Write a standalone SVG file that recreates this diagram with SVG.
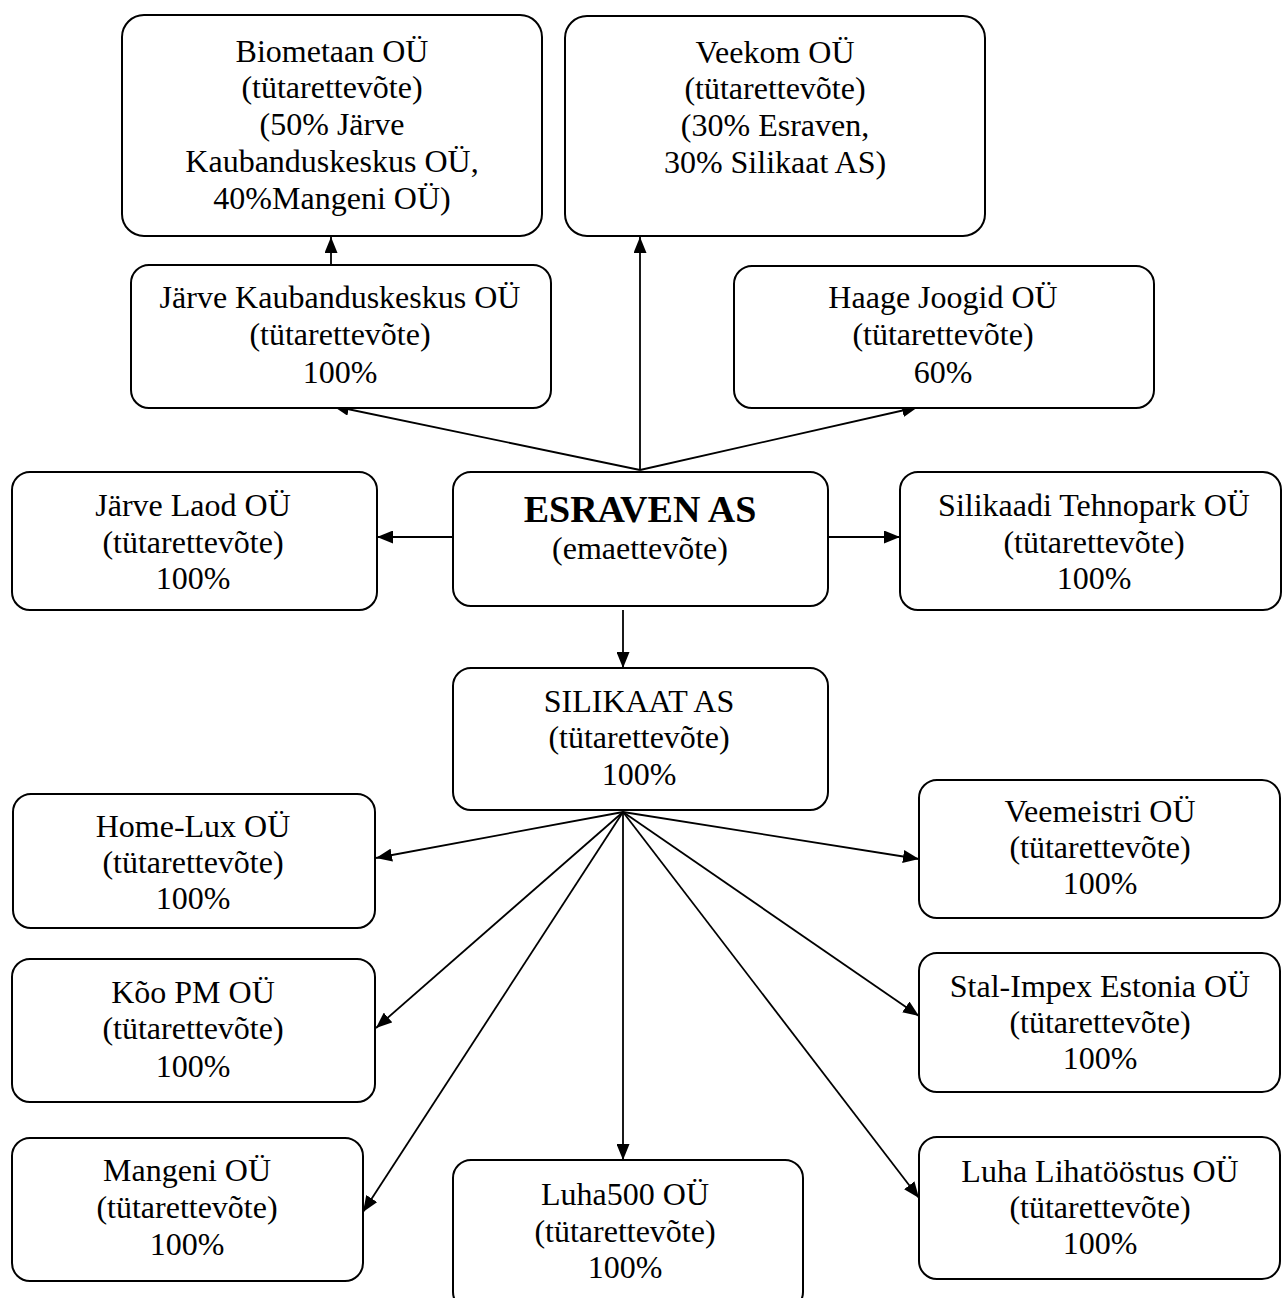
<svg xmlns="http://www.w3.org/2000/svg" width="1282" height="1298" viewBox="0 0 1282 1298">
<style>
.box{fill:#fff;stroke:#000;stroke-width:2}
text{font-family:"Liberation Serif","Times New Roman",serif;font-size:32px;fill:#000;text-anchor:middle}
.b{font-weight:bold;font-size:38px}
.c{stroke:#000;stroke-width:1.8;fill:none;marker-end:url(#ah)}
</style>
<defs>
<marker id="ah" markerUnits="userSpaceOnUse" markerWidth="16" markerHeight="13" refX="16" refY="6.5" orient="auto">
<path d="M0,0 L16,6.5 L0,13 z" fill="#000"/>
</marker>
</defs>
<rect width="1282" height="1298" fill="#fff"/>
<g id="connectors">
<line class="c" x1="331" y1="265" x2="331" y2="237"/>
<line class="c" x1="640" y1="470" x2="640" y2="237"/>
<line class="c" x1="640" y1="470" x2="333" y2="406"/>
<line class="c" x1="640" y1="470" x2="918" y2="407"/>
<line class="c" x1="453" y1="537" x2="377" y2="537"/>
<line class="c" x1="828" y1="537" x2="900" y2="537"/>
<line class="c" x1="623" y1="610" x2="623" y2="668"/>
<line class="c" x1="623" y1="812" x2="376" y2="858"/>
<line class="c" x1="623" y1="812" x2="376" y2="1028"/>
<line class="c" x1="623" y1="812" x2="363" y2="1212"/>
<line class="c" x1="623" y1="812" x2="623" y2="1160"/>
<line class="c" x1="623" y1="812" x2="919" y2="859"/>
<line class="c" x1="623" y1="812" x2="919" y2="1016"/>
<line class="c" x1="623" y1="812" x2="919" y2="1198"/>
</g>
<g id="biometaan">
<rect class="box" x="122" y="15" width="420" height="221" rx="22"/>
<text x="332" y="62">Biometaan OÜ</text>
<text x="332" y="98">(tütarettevõte)</text>
<text x="332" y="135">(50% Järve</text>
<text x="332" y="172">Kaubanduskeskus OÜ,</text>
<text x="332" y="209">40%Mangeni OÜ)</text>
</g>
<g id="veekom">
<rect class="box" x="565" y="16" width="420" height="220" rx="22"/>
<text x="775" y="63">Veekom OÜ</text>
<text x="775" y="99">(tütarettevõte)</text>
<text x="775" y="136">(30% Esraven,</text>
<text x="775" y="173">30% Silikaat AS)</text>
</g>
<g id="jarve-kaubanduskeskus">
<rect class="box" x="131" y="265" width="420" height="143" rx="18"/>
<text x="340" y="308">Järve Kaubanduskeskus OÜ</text>
<text x="340" y="345">(tütarettevõte)</text>
<text x="340" y="383">100%</text>
</g>
<g id="haage-joogid">
<rect class="box" x="734" y="266" width="420" height="142" rx="18"/>
<text x="943" y="308">Haage Joogid OÜ</text>
<text x="943" y="345">(tütarettevõte)</text>
<text x="943" y="383">60%</text>
</g>
<g id="jarve-laod">
<rect class="box" x="12" y="472" width="365" height="138" rx="18"/>
<text x="193" y="516">Järve Laod OÜ</text>
<text x="193" y="553">(tütarettevõte)</text>
<text x="193" y="589">100%</text>
</g>
<g id="esraven">
<rect class="box" x="453" y="472" width="375" height="134" rx="18"/>
<text class="b" x="640" y="522">ESRAVEN AS</text>
<text x="640" y="559">(emaettevõte)</text>
</g>
<g id="silikaadi-tehnopark">
<rect class="box" x="900" y="472" width="381" height="138" rx="18"/>
<text x="1094" y="516">Silikaadi Tehnopark OÜ</text>
<text x="1094" y="553">(tütarettevõte)</text>
<text x="1094" y="589">100%</text>
</g>
<g id="silikaat">
<rect class="box" x="453" y="668" width="375" height="142" rx="18"/>
<text x="639" y="712">SILIKAAT AS</text>
<text x="639" y="748">(tütarettevõte)</text>
<text x="639" y="785">100%</text>
</g>
<g id="home-lux">
<rect class="box" x="13" y="794" width="362" height="134" rx="18"/>
<text x="193" y="837">Home-Lux OÜ</text>
<text x="193" y="873">(tütarettevõte)</text>
<text x="193" y="909">100%</text>
</g>
<g id="koo-pm">
<rect class="box" x="12" y="959" width="363" height="143" rx="18"/>
<text x="193" y="1003">Kõo PM OÜ</text>
<text x="193" y="1039">(tütarettevõte)</text>
<text x="193" y="1077">100%</text>
</g>
<g id="mangeni">
<rect class="box" x="12" y="1138" width="351" height="143" rx="18"/>
<text x="187" y="1181">Mangeni OÜ</text>
<text x="187" y="1218">(tütarettevõte)</text>
<text x="187" y="1255">100%</text>
</g>
<g id="luha500">
<rect class="box" x="453" y="1160" width="350" height="150" rx="18"/>
<text x="625" y="1205">Luha500 OÜ</text>
<text x="625" y="1242">(tütarettevõte)</text>
<text x="625" y="1278">100%</text>
</g>
<g id="veemeistri">
<rect class="box" x="919" y="780" width="361" height="138" rx="18"/>
<text x="1100" y="822">Veemeistri OÜ</text>
<text x="1100" y="858">(tütarettevõte)</text>
<text x="1100" y="894">100%</text>
</g>
<g id="stal-impex">
<rect class="box" x="919" y="953" width="361" height="139" rx="18"/>
<text x="1100" y="997">Stal-Impex Estonia OÜ</text>
<text x="1100" y="1033">(tütarettevõte)</text>
<text x="1100" y="1069">100%</text>
</g>
<g id="luha-lihatoostus">
<rect class="box" x="919" y="1137" width="361" height="142" rx="18"/>
<text x="1100" y="1182">Luha Lihatööstus OÜ</text>
<text x="1100" y="1218">(tütarettevõte)</text>
<text x="1100" y="1254">100%</text>
</g>
</svg>
